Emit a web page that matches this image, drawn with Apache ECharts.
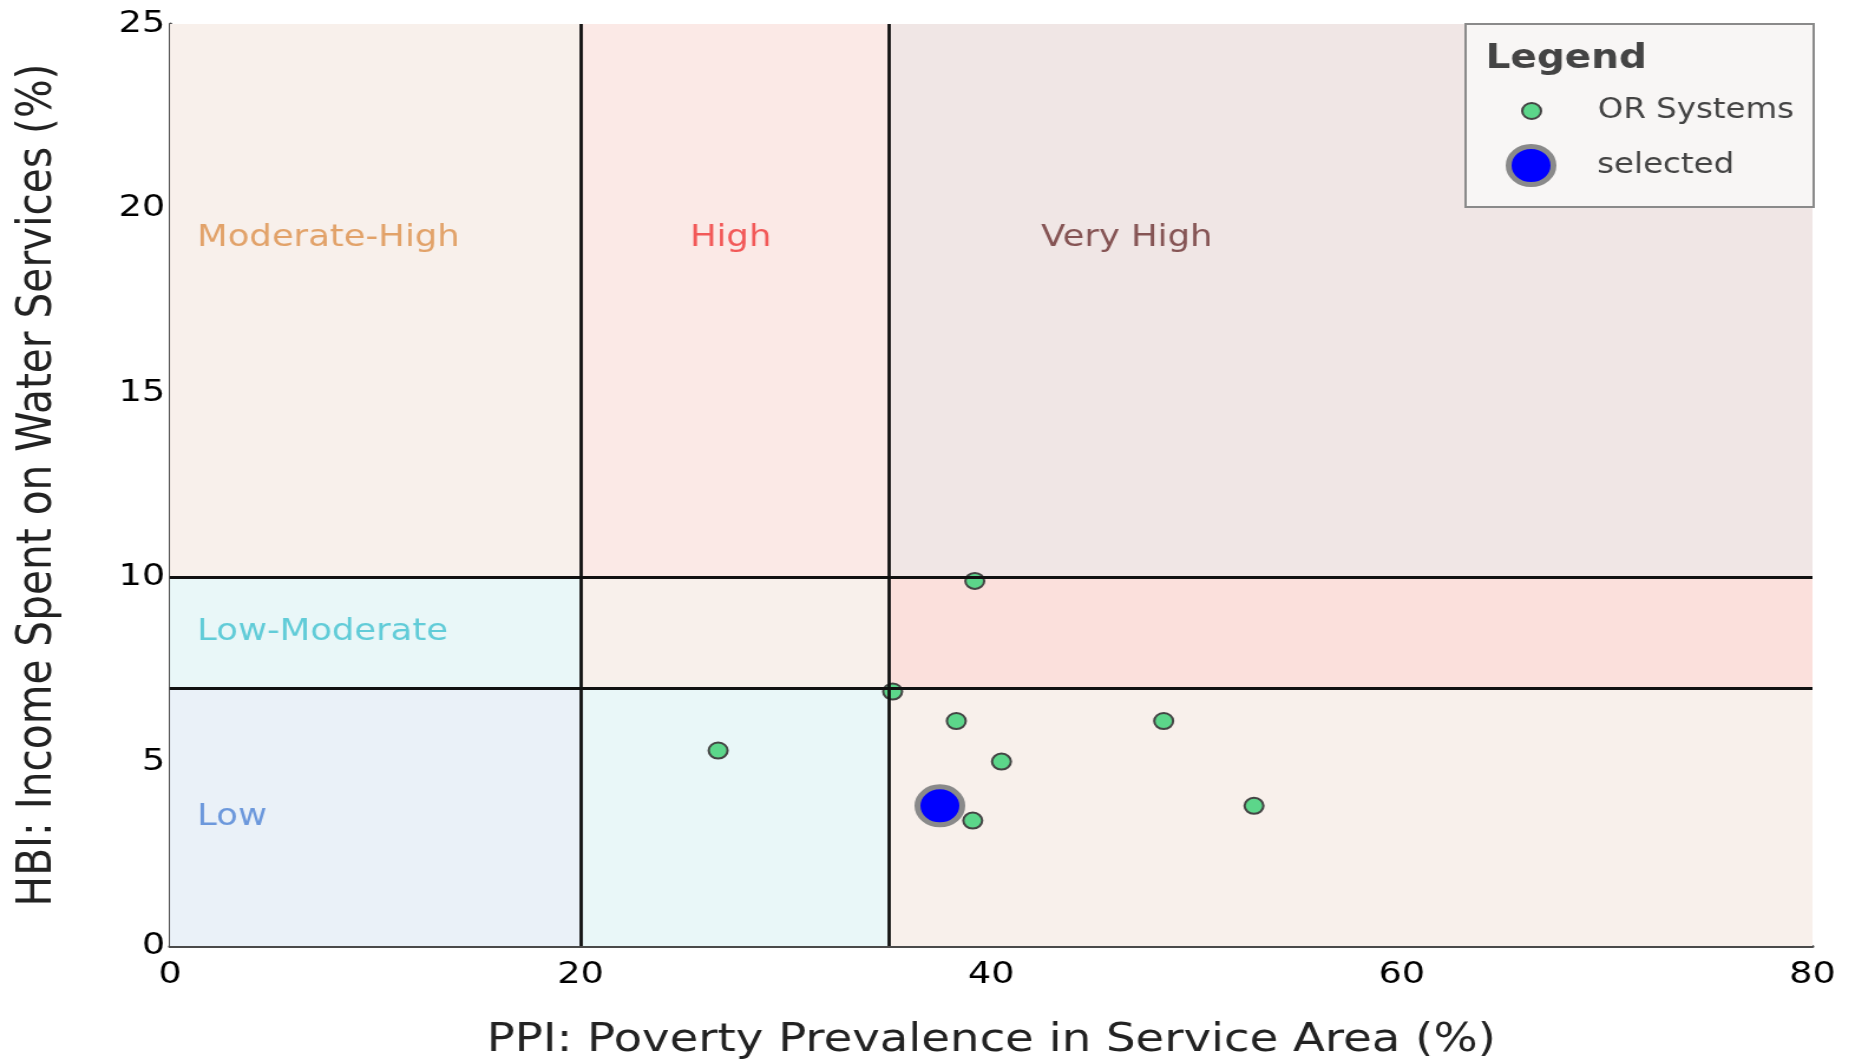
<!DOCTYPE html>
<html>
<head>
<meta charset="utf-8">
<script src="https://cdn.jsdelivr.net/npm/echarts@6.0.0/dist/echarts.min.js"></script>
<style>
html,body{margin:0;padding:0;background:#fff;overflow:hidden;width:1854px;height:1059px;}
#chart{width:1571px;height:1059px;transform:scaleX(1.18);transform-origin:0 0;}
</style>
</head>
<body>
<div id="chart"></div>
<script>
// ---- data ----
const xTicks = [0, 20, 40, 60, 80];
const yTicks = [0, 5, 10, 15, 20, 25];
const xBreaks = [0, 20, 35, 80];      // PPI zone boundaries
const yBreaks = [0, 7, 10, 25];       // HBI zone boundaries
const zoneGrid = [                    // rows: y bands bottom->top, cols: x bands left->right
  ['Low', 'Low-Moderate', 'Moderate-High'],
  ['Low-Moderate', 'Moderate-High', 'High'],
  ['Moderate-High', 'High', 'Very High']
];
const zoneLabelNames = ['Moderate-High', 'High', 'Very High', 'Low-Moderate', 'Low'];
const zoneLabelX = [1.3, 25.3, 42.4, 1.3, 1.3];
const zoneLabelY = [19.2, 19.2, 19.2, 8.5, 3.5];
const orX = [39.2, 35.2, 38.3, 48.4, 40.5, 39.1, 52.8, 26.7];
const orY = [9.9, 6.9, 6.1, 6.1, 5.0, 3.4, 3.8, 5.3];
const selX = [37.5];
const selY = [3.8];

// ---- styles ----
const FONT = '"DejaVu Sans", Verdana, sans-serif';
const cellFill = [
  ['#eaf1f8', '#e9f7f8', '#f8f0eb'],
  ['#e9f7f8', '#f8f0eb', '#fbe0dc'],
  ['#f8f0eb', '#fbe9e6', '#f0e6e5']
];
const zoneLabelColor = {
  'Moderate-High': '#dc8f48',
  'High': '#f03535',
  'Very High': '#6a3030',
  'Low-Moderate': '#3fc0d0',
  'Low': '#4c82d4'
};

const cells = [];
for (let r = 0; r < zoneGrid.length; r++) {
  for (let c = 0; c < zoneGrid[r].length; c++) {
    cells.push([
      { name: zoneGrid[r][c], xAxis: xBreaks[c], yAxis: yBreaks[r], itemStyle: { color: cellFill[r][c], opacity: 1 } },
      { xAxis: xBreaks[c + 1], yAxis: yBreaks[r + 1] }
    ]);
  }
}
const innerX = xBreaks.slice(1, -1);
const innerY = yBreaks.slice(1, -1);

const chart = echarts.init(document.getElementById('chart'), null, { renderer: 'canvas' });
chart.setOption({
  animation: false,
  backgroundColor: '#ffffff',
  grid: { left: 144, right: 35, top: 24, bottom: 113, outerBoundsMode: 'none', containLabel: false },
  xAxis: {
    type: 'value', min: xTicks[0], max: xTicks[xTicks.length - 1], interval: xTicks[1] - xTicks[0],
    name: 'PPI: Poverty Prevalence in Service Area (%)', nameLocation: 'middle', nameGap: 75,
    nameTextStyle: { fontSize: 39.5, color: '#222', fontFamily: FONT },
    axisLine: { show: true, onZero: false, lineStyle: { color: '#4a4a4a', width: 3 } },
    axisTick: { show: false },
    splitLine: { show: false },
    axisLabel: { fontSize: 31, color: '#000', fontFamily: FONT, margin: 13 }
  },
  yAxis: {
    type: 'value', min: yTicks[0], max: yTicks[yTicks.length - 1], interval: yTicks[1] - yTicks[0],
    name: 'HBI: Income Spent on Water Services (%)', nameLocation: 'middle', nameGap: 91,
    nameTextStyle: { fontSize: 40.7, color: '#222', fontFamily: FONT },
    axisLine: { show: true, onZero: false, lineStyle: { color: '#4a4a4a', width: 3 } },
    axisTick: { show: false },
    splitLine: { show: false },
    axisLabel: { fontSize: 31, color: '#000', fontFamily: FONT, margin: 4 }
  },
  legend: [
    {
      data: [{ name: 'OR Systems', icon: 'circle', itemStyle: { color: '#5cd68a', borderColor: '#444', borderWidth: 2 } }],
      left: 1289, top: 97, orient: 'vertical', padding: 0,
      itemWidth: 102, itemHeight: 16, selectedMode: false, z: 101,
      textStyle: { fontSize: 27.5, color: '#444', fontFamily: FONT }
    },
    {
      data: [{ name: 'selected', icon: 'circle', itemStyle: { color: '#0000ff', borderColor: '#8a8a8a', borderWidth: 5 } }],
      left: 1276, top: 144, orient: 'vertical', padding: 0,
      itemWidth: 102, itemHeight: 38, selectedMode: false, z: 101,
      textStyle: { fontSize: 27.5, color: '#444', fontFamily: FONT }
    }
  ],
  graphic: [
    { type: 'rect', left: 1241, top: 23, z: 100, shape: { width: 295, height: 183 },
      style: { fill: '#f8f6f5', stroke: '#8a8a8a', lineWidth: 2 } },
    { type: 'text', left: 1259, top: 43, z: 101,
      style: { text: 'Legend', font: 'bold 33px "DejaVu Sans", Verdana, sans-serif', fill: '#444' } }
  ],
  series: [
    {
      name: 'zones', type: 'scatter', data: [], z: 1, silent: true,
      markArea: { silent: true, label: { show: false }, data: cells }
    },
    {
      name: 'thresholds', type: 'scatter', data: [], z: 2, silent: true,
      markLine: {
        silent: true, symbol: 'none', label: { show: false }, animation: false,
        lineStyle: { color: '#111', width: 2.8, type: 'solid', opacity: 1 },
        emphasis: { disabled: true },
        data: innerX.map(v => ({ xAxis: v })).concat(innerY.map(v => ({ yAxis: v })))
      }
    },
    {
      name: 'zoneLabels', type: 'scatter', z: 3, silent: true, symbolSize: 1,
      itemStyle: { color: 'rgba(0,0,0,0)' },
      label: { show: true, position: 'right', distance: 0, fontSize: 30, fontFamily: FONT, formatter: p => p.name },
      data: zoneLabelNames.map((n, i) => ({ name: n, value: [zoneLabelX[i], zoneLabelY[i]], label: { color: zoneLabelColor[n] } }))
    },
    {
      name: 'OR Systems', type: 'scatter', z: 4, symbolSize: 16,
      itemStyle: { color: '#5cd68a', borderColor: '#444', borderWidth: 2, opacity: 1 },
      data: orX.map((x, i) => [x, orY[i]])
    },
    {
      name: 'selected', type: 'scatter', z: 5, symbolSize: 38,
      itemStyle: { color: '#0000ff', borderColor: '#8a8a8a', borderWidth: 5, opacity: 1 },
      data: selX.map((x, i) => [x, selY[i]])
    }
  ]
});
</script>
</body>
</html>
